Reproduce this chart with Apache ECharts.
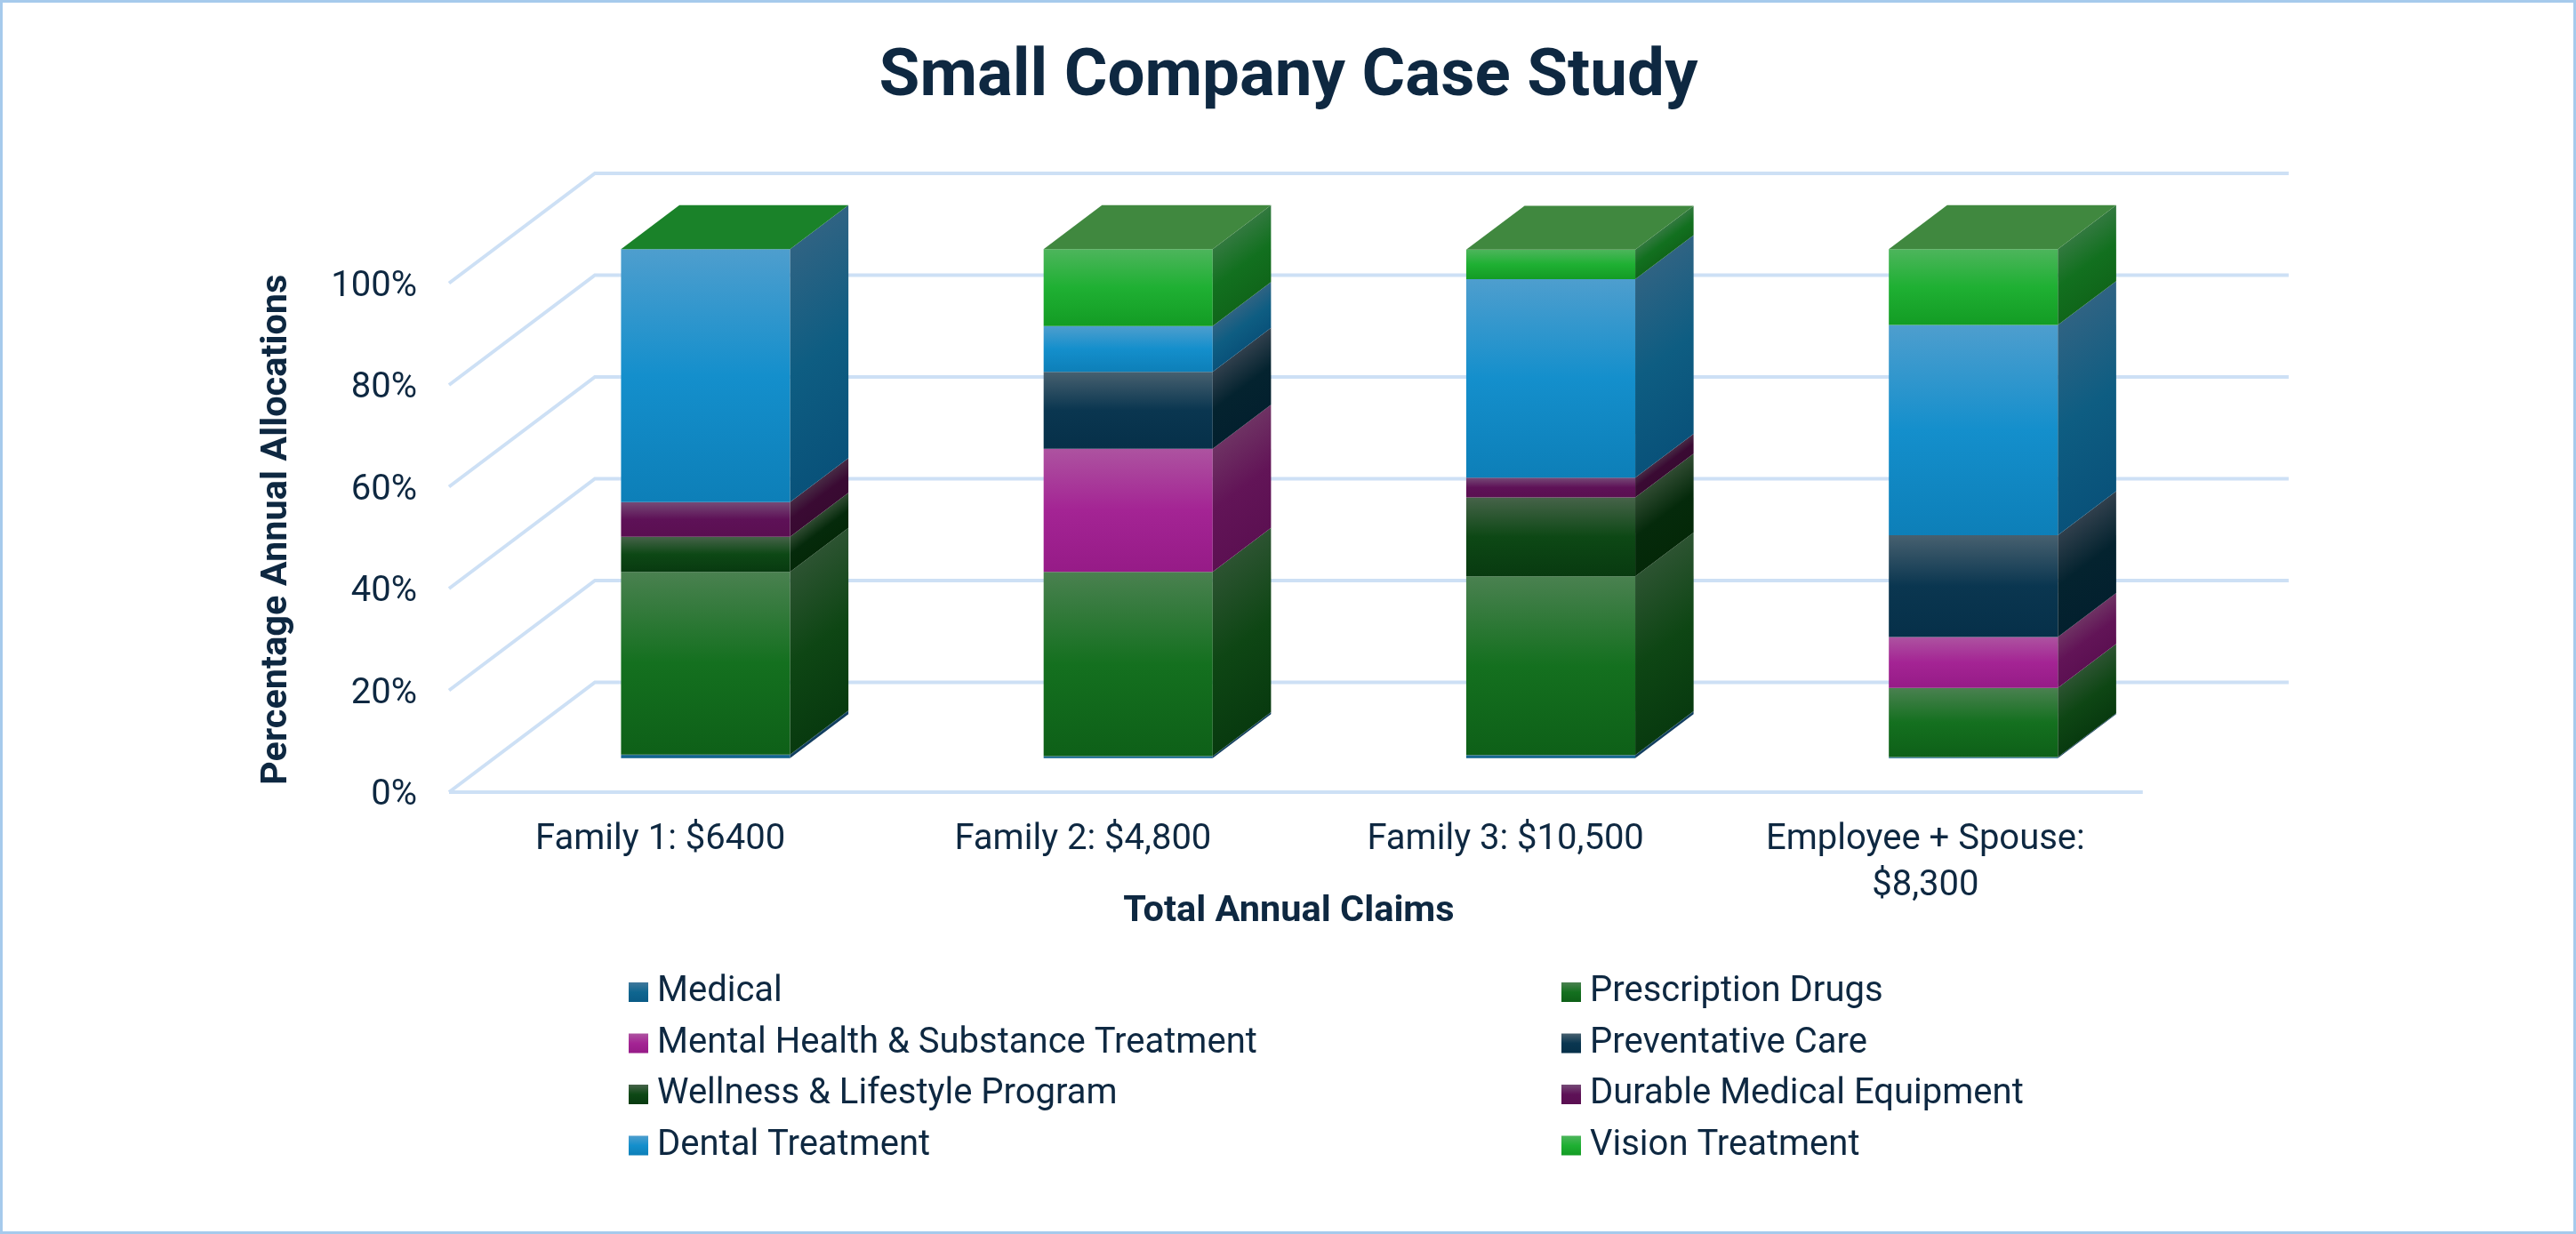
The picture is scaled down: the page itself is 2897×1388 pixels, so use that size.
<!DOCTYPE html>
<html>
<head>
<meta charset="utf-8">
<title>Small Company Case Study</title>
<script src="https://cdn.jsdelivr.net/npm/echarts@6/dist/echarts.min.js"></script>
<style>
  html, body { margin: 0; padding: 0; background: #fff; }
  #chart { width: 2897px; height: 1388px; }
</style>
</head>
<body>
<div id="chart"></div>
<script>
// Share of annual claims per family, in percent
const categories = ['Family 1: $6400', 'Family 2: $4,800', 'Family 3: $10,500', 'Employee + Spouse:\n$8,300'];
const medical      = [0.7, 0.4, 0.6, 0.2];
const prescription = [35.9, 36.2, 35.1, 13.6];
const mentalHealth = [0, 24.2, 0, 10.0];
const preventative = [0, 15.1, 0, 20.0];
const wellness     = [6.9, 0, 15.5, 0];
const durable      = [6.8, 0, 3.9, 0];
const dental       = [49.7, 9.0, 39.0, 41.3];
const vision       = [0, 15.1, 5.8, 14.9];
const valueTicks = [0, 20, 40, 60, 80, 100];

const TEXT = '#0E2841';
const GRID = '#CDE0F5';
const FONT = 'Roboto';

// Front, mid and bottom tones of each face: [front stops, side stops]
const seriesDefs = [
  { name: 'Medical', values: medical, front: ['#40789C', '#0F6690', '#0A5B86'], side: ['#1E4D6E', '#123F60', '#103A5A'] },
  { name: 'Prescription Drugs', values: prescription, front: ['#4A8150', '#14701F', '#0E6018'], side: ['#2C5331', '#0E4614', '#083A0F'] },
  { name: 'Mental Health & Substance Treatment', values: mentalHealth, front: ['#AD53A0', '#A42494', '#961B87'], side: ['#6E3263', '#621457', '#5C1052'] },
  { name: 'Preventative Care', values: preventative, front: ['#47606F', '#0A3650', '#063049'], side: ['#303F4C', '#04232F', '#03202E'] },
  { name: 'Wellness & Lifestyle Program', values: wellness, front: ['#466349', '#0D4815', '#083A10'], side: ['#2F4A31', '#052A0B', '#042808'] },
  { name: 'Durable Medical Equipment', values: durable, front: ['#754A76', '#5E1157', '#5A0F51'], side: ['#472A44', '#3A0A33', '#380A31'] },
  { name: 'Dental Treatment', values: dental, front: ['#4E9ECE', '#148FCC', '#0D7FB8'], side: ['#2F6383', '#0E5D82', '#09527A'] },
  { name: 'Vision Treatment', values: vision, front: ['#4DB55C', '#1FB033', '#139C24'], side: ['#32793F', '#12701F', '#10661A'] }
];
const TOP_FILLED = '#40883F';
const TOP_EMPTY = '#1A8229';

// Oblique projection of the floor depth, as shares of the plot size
const DEPTH_X = 0.0863;
const DEPTH_Y = 0.2157;
// The walls run a little past the last band
const WALL_OVERRUN = 1.002;
// Where a column sits along the depth, and its width as a share of a band
const BAR_FRONT = 0.31;
const BAR_BACK = 0.71;
const BAR_WIDTH = 0.4;

function threeStops(c) {
  return [{ offset: 0, color: c[0] }, { offset: 0.5, color: c[1] }, { offset: 1, color: c[2] }];
}
function vertical(c) {
  return { type: 'linear', x: 0, y: 0, x2: 0, y2: 1, colorStops: threeStops(c) };
}

// Back wall and side wall rules, plus the front edge of the floor
function renderWalls(params, api) {
  const sys = params.coordSys;
  const dx = sys.width * DEPTH_X;
  const dy = sys.height * DEPTH_Y;
  const y = api.coord([0, api.value(1)])[1];
  const left = sys.x;
  const right = sys.x + sys.width * WALL_OVERRUN;
  const style = { stroke: GRID, lineWidth: 4, fill: null };
  const children = [{
    type: 'polyline',
    shape: { points: [[left, y], [left + dx, y - dy], [right + dx, y - dy]] },
    style: style
  }];
  if (api.value(1) === 0) {
    children.push({ type: 'line', shape: { x1: left, y1: y, x2: right, y2: y }, style: style });
  }
  return { type: 'group', children: children };
}

// One stacked segment of a column: front face, side face and, on the last series, the cap
function makeSegmentRenderer(def, isLast) {
  return function (params, api) {
    const sys = params.coordSys;
    const dx = sys.width * DEPTH_X;
    const dy = sys.height * DEPTH_Y;
    const cat = api.value(0);
    const from = api.value(1);
    const to = api.value(2);
    const band = api.size([1, 0])[0];
    const w = band * BAR_WIDTH;
    const cx = api.coord([cat, 0])[0];
    const xl = cx - w / 2 + dx * BAR_FRONT;
    const xr = xl + w;
    const yb = api.coord([cat, from])[1] - dy * BAR_FRONT;
    const yt = api.coord([cat, to])[1] - dy * BAR_FRONT;
    const sx = dx * (BAR_BACK - BAR_FRONT);
    const sy = dy * (BAR_BACK - BAR_FRONT);
    const children = [];
    if (to > from) {
      children.push({
        type: 'rect',
        shape: { x: xl, y: yt, width: w, height: yb - yt },
        style: { fill: vertical(def.front) }
      });
      // The side shading runs square to the slanted top edge
      const h = yb - yt;
      const norm = Math.sqrt(sx * sx + sy * sy);
      const nx = sy / norm;
      const ny = sx / norm;
      const along = h * ny;
      children.push({
        type: 'polygon',
        shape: { points: [[xr, yt], [xr + sx, yt - sy], [xr + sx, yb - sy], [xr, yb]] },
        style: {
          fill: {
            type: 'linear', global: true,
            x: xr, y: yt, x2: xr + nx * along, y2: yt + ny * along,
            colorStops: threeStops(def.side)
          }
        }
      });
    }
    if (isLast) {
      children.push({
        type: 'polygon',
        shape: { points: [[xl, yt], [xl + sx, yt - sy], [xr + sx, yt - sy], [xr, yt]] },
        style: { fill: to > from ? TOP_FILLED : TOP_EMPTY }
      });
    }
    return { type: 'group', children: children };
  };
}

const running = categories.map(() => 0);
const barSeries = seriesDefs.map((def, i) => {
  const rows = def.values.map((v, c) => {
    const row = [c, running[c], running[c] + v];
    running[c] += v;
    return row;
  });
  return {
    type: 'custom',
    name: def.name,
    z: 3,
    silent: true,
    itemStyle: { color: def.front[1] },
    renderItem: makeSegmentRenderer(def, i === seriesDefs.length - 1),
    encode: { x: 0, y: [1, 2] },
    data: rows
  };
});

function legendColumn(left, picks) {
  return {
    show: true,
    orient: 'vertical',
    left: left,
    top: 1091,
    icon: 'rect',
    itemWidth: 22,
    itemHeight: 22,
    itemGap: 17.5,
    selectedMode: false,
    textStyle: { color: TEXT, fontFamily: FONT, fontSize: 40, padding: [0, 0, 0, 5] },
    data: picks.map((i) => ({
      name: seriesDefs[i].name,
      itemStyle: { color: vertical(seriesDefs[i].front) }
    }))
  };
}

const chart = echarts.init(document.getElementById('chart'), null, { renderer: 'canvas' });
chart.setOption({
  animation: false,
  backgroundColor: '#ffffff',
  title: {
    text: 'Small Company Case Study',
    left: 1444, top: 46, textAlign: 'center',
    textStyle: { color: TEXT, fontFamily: FONT, fontWeight: 'bold', fontSize: 74.5 }
  },
  graphic: [{
    type: 'rect', silent: true, z: -1,
    shape: { x: 1.5, y: 1.5, width: 2894, height: 1385 },
    style: { fill: 'none', stroke: '#A6CAEC', lineWidth: 3 }
  }],
  grid: { left: 505, top: 318.5, width: 1901, height: 572.5 },
  legend: [legendColumn(702, [0, 2, 4, 6]), legendColumn(1751, [1, 3, 5, 7])],
  xAxis: {
    type: 'category',
    data: categories,
    name: 'Total Annual Claims',
    nameLocation: 'middle',
    nameGap: 114,
    nameMoveOverlap: false,
    nameTextStyle: { color: TEXT, fontFamily: FONT, fontWeight: 'bold', fontSize: 41.5, padding: [0, 12, 0, 0] },
    axisLine: { show: false },
    axisTick: { show: false },
    axisLabel: {
      interval: 0, margin: 28, color: TEXT, fontFamily: FONT, fontSize: 40, lineHeight: 52,
      // The wrapped label sits slightly left of its band
      formatter: (v) => v.indexOf('\n') < 0 ? v : v.split('\n').map((l) => '{wrapped|' + l + '}').join('\n'),
      rich: { wrapped: { color: TEXT, fontFamily: FONT, fontSize: 40, lineHeight: 52, padding: [0, 6, 0, 0] } }
    }
  },
  yAxis: {
    type: 'value',
    min: 0, max: 100, interval: 20,
    name: 'Percentage Annual Allocations',
    nameLocation: 'middle',
    nameGap: 172,
    nameMoveOverlap: false,
    nameTextStyle: { color: TEXT, fontFamily: FONT, fontWeight: 'bold', fontSize: 41.5, padding: [0, 0, 0, 18] },
    axisLine: { show: false },
    axisTick: { show: false },
    splitLine: { show: false },
    axisLabel: {
      margin: 36, color: TEXT, fontFamily: FONT, fontSize: 40,
      formatter: (v) => '{tick|' + v + '%}',
      rich: { tick: { color: TEXT, fontFamily: FONT, fontSize: 40, padding: [8, 0, 0, 0] } }
    }
  },
  series: [{
    type: 'custom',
    name: 'walls',
    z: 1,
    silent: true,
    renderItem: renderWalls,
    encode: { y: 1 },
    data: valueTicks.map((t) => [0, t])
  }].concat(barSeries)
});
</script>
</body>
</html>
